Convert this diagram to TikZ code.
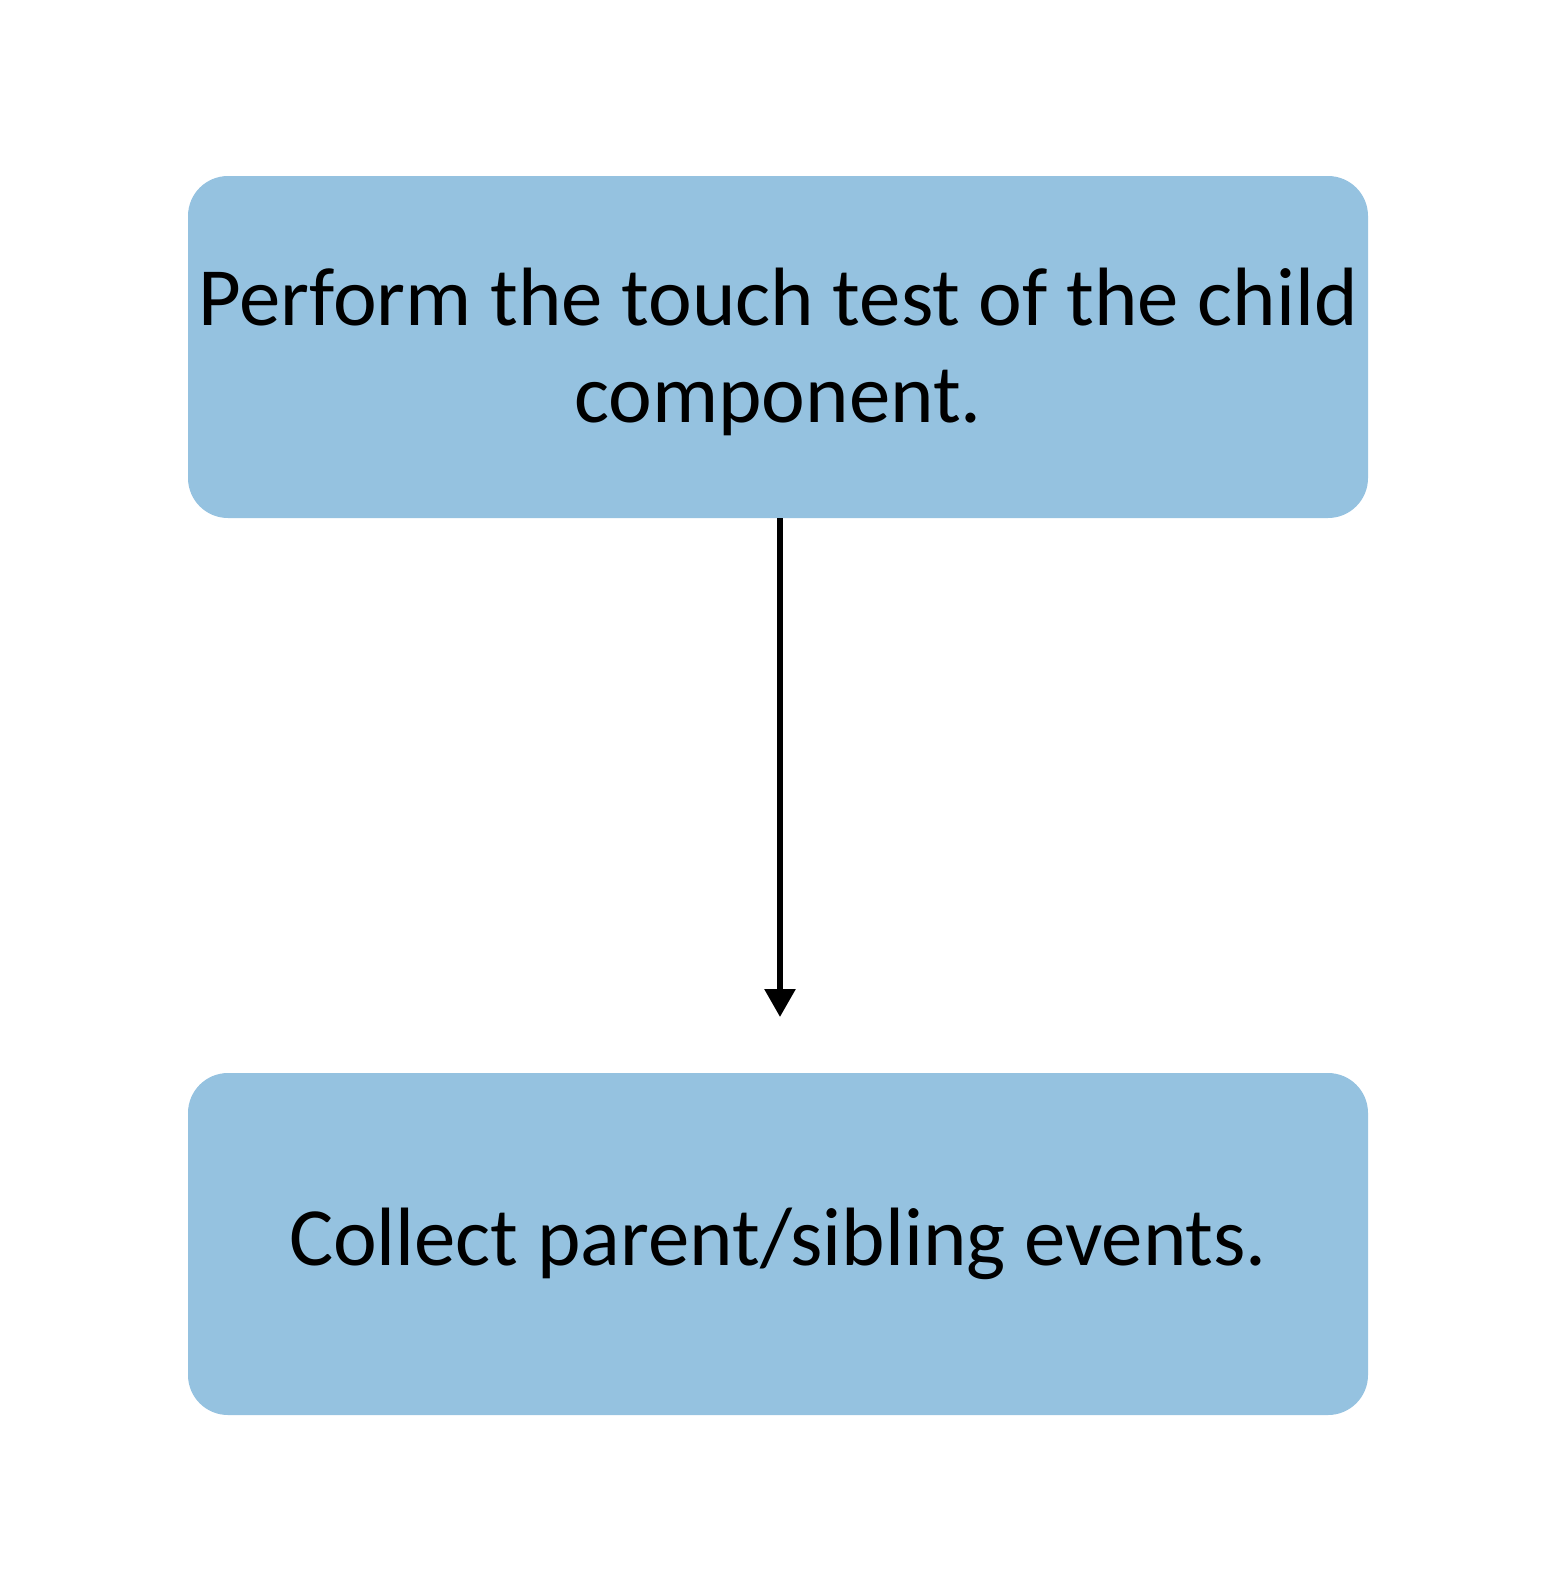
\documentclass[tikz,border=0pt]{standalone}
\usepackage{fontspec}
\setmainfont{Carlito}
\usetikzlibrary{arrows.meta}
\definecolor{boxblue}{RGB}{149,194,224}
\begin{document}
\begin{tikzpicture}[x=0.5pt,y=-0.5pt,
  stepbox/.style={fill=boxblue,draw=none,rounded corners=20pt,minimum width=590pt,minimum height=171pt,inner sep=2pt},
  steptext/.style={font=\fontsize{41.4}{48.5}\selectfont,align=center,inner sep=0pt},
  conn/.style={line width=2.9pt,-{Triangle[width=15pt,length=14pt]}}]
\useasboundingbox (0,0) rectangle (1558,1591);
\node[stepbox] (a) at (778,347) {};
\node[steptext] (at) at (778,352) {Perform the touch test of the child\\component.};
\node[stepbox] (b) at (778,1244) {};
\node[steptext] (bt) at (778,1244) {Collect parent/sibling events.};
\coordinate (tip) at (780,1017);
\draw[conn] (a.south -| tip) -- (tip);
\end{tikzpicture}
\end{document}
